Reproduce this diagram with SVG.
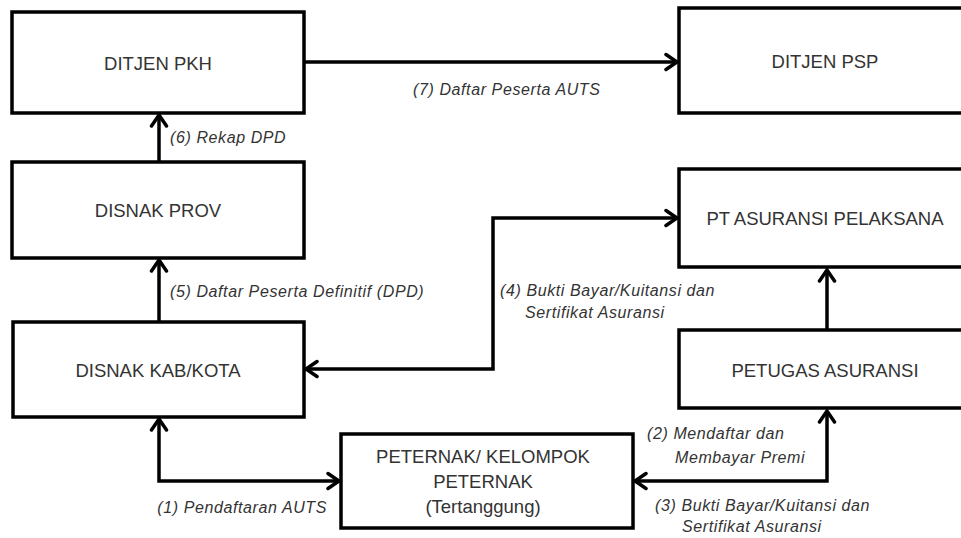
<svg xmlns="http://www.w3.org/2000/svg" width="961" height="538" viewBox="0 0 961 538">
<style>
.box{fill:#fff;stroke:#000;stroke-width:3.5}
.nt{font-family:"Liberation Sans",Arial,sans-serif;font-size:18.5px;fill:#333;text-anchor:middle}
.lb{font-family:"Liberation Sans",Arial,sans-serif;font-size:16px;font-style:italic;fill:#333;letter-spacing:0.6px}
.cn{fill:none;stroke:#000;stroke-width:3.5;stroke-linejoin:miter}
</style>
<defs>
<marker id="ah" markerUnits="userSpaceOnUse" viewBox="-14 -10 16 20" refX="0" refY="0" markerWidth="16" markerHeight="20" orient="auto-start-reverse">
<path d="M-11,-7.5 L0,0 L-11,7.5" fill="none" stroke="#000" stroke-width="3.5" stroke-linecap="round" stroke-linejoin="miter"/>
</marker>
</defs>
<rect width="961" height="538" fill="#fff"/>
<g id="connectors">
<line class="cn" x1="304" y1="62" x2="677" y2="62" marker-end="url(#ah)"/>
<line class="cn" x1="159" y1="162" x2="159" y2="115" marker-end="url(#ah)"/>
<line class="cn" x1="159" y1="322" x2="159" y2="260" marker-end="url(#ah)"/>
<polyline class="cn" points="306,369 493,369 493,218 677,218" marker-start="url(#ah)" marker-end="url(#ah)"/>
<polyline class="cn" points="159,419 159,481 339,481" marker-start="url(#ah)" marker-end="url(#ah)"/>
<line class="cn" x1="827" y1="330" x2="827" y2="270" marker-end="url(#ah)"/>
<polyline class="cn" points="827,411 827,481 635,481" marker-start="url(#ah)" marker-end="url(#ah)"/>
<text class="lb" x="413" y="95">(7) Daftar Peserta AUTS</text>
<text class="lb" x="170" y="143">(6) Rekap DPD</text>
<text class="lb" x="170" y="297">(5) Daftar Peserta Definitif (DPD)</text>
<text class="lb" x="500" y="296">(4) Bukti Bayar/Kuitansi dan</text>
<text class="lb" x="525" y="318">Sertifikat Asuransi</text>
<text class="lb" x="647" y="439">(2) Mendaftar dan</text>
<text class="lb" x="675" y="463">Membayar Premi</text>
<text class="lb" x="655" y="511">(3) Bukti Bayar/Kuitansi dan</text>
<text class="lb" x="682" y="532">Sertifikat Asuransi</text>
<text class="lb" x="327" y="513" text-anchor="end">(1) Pendaftaran AUTS</text>
</g>
<g id="ditjen-pkh"><rect class="box" x="12" y="12" width="292" height="101"/><text class="nt" x="158" y="70">DITJEN PKH</text></g>
<g id="ditjen-psp"><rect class="box" x="679" y="8" width="300" height="105"/><text class="nt" x="825" y="68">DITJEN PSP</text></g>
<g id="disnak-prov"><rect class="box" x="12" y="162" width="292" height="96"/><text class="nt" x="158" y="217">DISNAK PROV</text></g>
<g id="pt-asuransi"><rect class="box" x="679" y="169" width="300" height="98"/><text class="nt" x="825" y="225">PT ASURANSI PELAKSANA</text></g>
<g id="disnak-kab"><rect class="box" x="13" y="322" width="291" height="95"/><text class="nt" x="158" y="377">DISNAK KAB/KOTA</text></g>
<g id="petugas"><rect class="box" x="679" y="330" width="300" height="78"/><text class="nt" x="825" y="377">PETUGAS ASURANSI</text></g>
<g id="peternak"><rect class="box" x="341" y="434" width="292" height="94"/><text class="nt" x="483" y="463">PETERNAK/ KELOMPOK</text><text class="nt" x="483" y="488">PETERNAK</text><text class="nt" x="483" y="513">(Tertanggung)</text></g>
</svg>
